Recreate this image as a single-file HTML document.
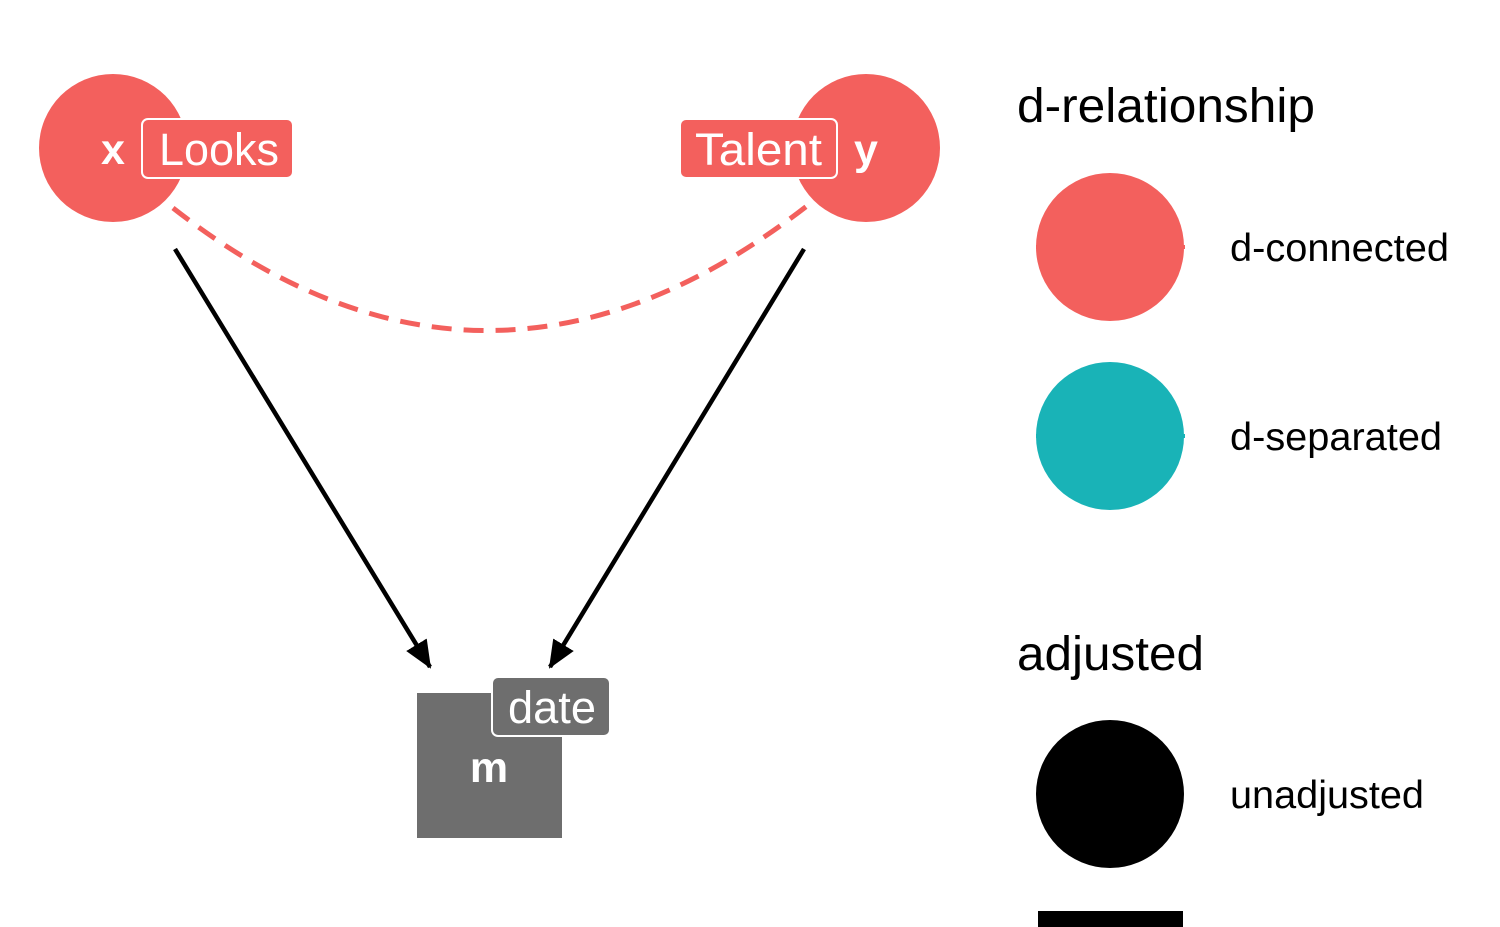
<!DOCTYPE html>
<html><head><meta charset="utf-8"><style>html,body{margin:0;padding:0;background:#fff;width:1500px;height:927px;overflow:hidden}</style></head>
<body>
<svg width="1500" height="927" viewBox="0 0 1500 927" xmlns="http://www.w3.org/2000/svg" font-family="Liberation Sans, sans-serif">
<defs>
<marker id="ah" markerUnits="userSpaceOnUse" markerWidth="30" markerHeight="30" refX="26" refY="12" orient="auto" viewBox="0 0 30 24">
<polygon points="0,0 28,12 0,24" fill="#000"/>
</marker>
</defs>
<path d="M173,208 Q490,456 812,202" fill="none" stroke="#F3605D" stroke-width="5" stroke-dasharray="20,12"/>
<line x1="175" y1="249" x2="430" y2="667" stroke="#000" stroke-width="4.5" marker-end="url(#ah)"/>
<line x1="804" y1="249" x2="550" y2="667" stroke="#000" stroke-width="4.5" marker-end="url(#ah)"/>
<circle cx="113" cy="148" r="74" fill="#F3605D"/>
<circle cx="866" cy="148" r="74" fill="#F3605D"/>
<text x="113" y="164" fill="#fff" font-size="43" font-weight="bold" text-anchor="middle">x</text>
<text x="866" y="164" fill="#fff" font-size="43" font-weight="bold" text-anchor="middle">y</text>
<rect x="142" y="119" width="151" height="59" rx="6" fill="#F3605D" stroke="#fff" stroke-width="2"/>
<text x="159" y="165" fill="#fff" font-size="45" textLength="120" lengthAdjust="spacingAndGlyphs">Looks</text>
<rect x="680" y="119" width="157" height="59" rx="6" fill="#F3605D" stroke="#fff" stroke-width="2"/>
<text x="695" y="165" fill="#fff" font-size="45" textLength="127" lengthAdjust="spacingAndGlyphs">Talent</text>
<rect x="417" y="693" width="145" height="145" fill="#6E6E6E"/>
<text x="489" y="782" fill="#fff" font-size="43" font-weight="bold" text-anchor="middle">m</text>
<rect x="492" y="677" width="118" height="59" rx="6" fill="#6E6E6E" stroke="#fff" stroke-width="2"/>
<text x="508" y="723" fill="#fff" font-size="45" textLength="88" lengthAdjust="spacingAndGlyphs">date</text>
<text x="1017" y="122" font-size="48" fill="#000" textLength="298" lengthAdjust="spacingAndGlyphs">d-relationship</text>
<line x1="1036" y1="247" x2="1185" y2="247" stroke="#F3605D" stroke-width="4"/>
<circle cx="1110" cy="247" r="74" fill="#F3605D"/>
<text x="1230" y="261" font-size="39" fill="#000" textLength="219" lengthAdjust="spacingAndGlyphs">d-connected</text>
<line x1="1036" y1="436" x2="1185" y2="436" stroke="#19B3B7" stroke-width="4"/>
<circle cx="1110" cy="436" r="74" fill="#19B3B7"/>
<text x="1230" y="450" font-size="39" fill="#000" textLength="212" lengthAdjust="spacingAndGlyphs">d-separated</text>
<text x="1017" y="670" font-size="48" fill="#000" textLength="187" lengthAdjust="spacingAndGlyphs">adjusted</text>
<circle cx="1110" cy="794" r="74" fill="#000"/>
<text x="1230" y="808" font-size="39" fill="#000" textLength="194" lengthAdjust="spacingAndGlyphs">unadjusted</text>
<rect x="1038" y="911" width="145" height="16" fill="#000"/>
</svg>
</body></html>
